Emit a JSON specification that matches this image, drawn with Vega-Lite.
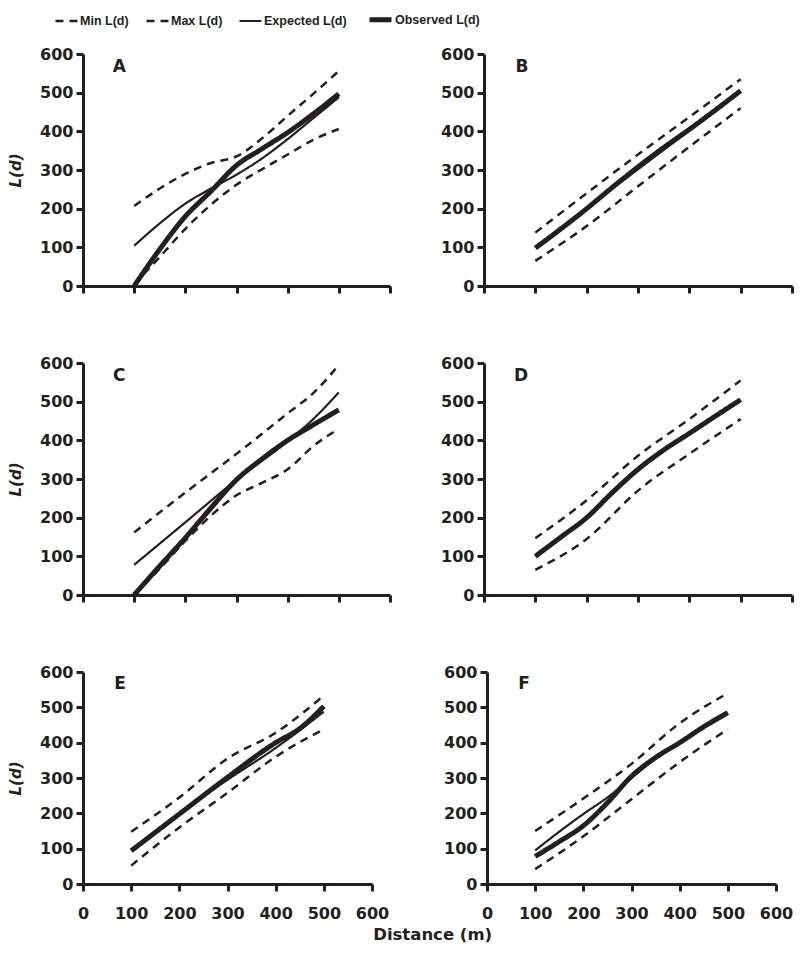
{
  "$schema": "https://vega.github.io/schema/vega-lite/v6.json",
  "padding": {"left": 8, "top": 6, "right": 5, "bottom": 5},
  "background": "white",
  "datasets": {
    "curves": [
      {"p":"A","s":"Min L(d)","d":100,"L":5},{"p":"A","s":"Min L(d)","d":150,"L":75},{"p":"A","s":"Min L(d)","d":200,"L":148},{"p":"A","s":"Min L(d)","d":250,"L":210},{"p":"A","s":"Min L(d)","d":300,"L":262},{"p":"A","s":"Min L(d)","d":350,"L":302},{"p":"A","s":"Min L(d)","d":400,"L":340},{"p":"A","s":"Min L(d)","d":450,"L":378},{"p":"A","s":"Min L(d)","d":500,"L":406},
      {"p":"A","s":"Max L(d)","d":100,"L":207},{"p":"A","s":"Max L(d)","d":150,"L":252},{"p":"A","s":"Max L(d)","d":200,"L":290},{"p":"A","s":"Max L(d)","d":250,"L":318},{"p":"A","s":"Max L(d)","d":300,"L":335},{"p":"A","s":"Max L(d)","d":350,"L":382},{"p":"A","s":"Max L(d)","d":400,"L":440},{"p":"A","s":"Max L(d)","d":450,"L":497},{"p":"A","s":"Max L(d)","d":500,"L":556},
      {"p":"A","s":"Expected L(d)","d":100,"L":104},{"p":"A","s":"Expected L(d)","d":150,"L":162},{"p":"A","s":"Expected L(d)","d":200,"L":213},{"p":"A","s":"Expected L(d)","d":250,"L":252},{"p":"A","s":"Expected L(d)","d":300,"L":288},{"p":"A","s":"Expected L(d)","d":350,"L":330},{"p":"A","s":"Expected L(d)","d":400,"L":380},{"p":"A","s":"Expected L(d)","d":450,"L":434},{"p":"A","s":"Expected L(d)","d":500,"L":488},
      {"p":"A","s":"Observed L(d)","d":100,"L":0},{"p":"A","s":"Observed L(d)","d":150,"L":95},{"p":"A","s":"Observed L(d)","d":200,"L":180},{"p":"A","s":"Observed L(d)","d":250,"L":245},{"p":"A","s":"Observed L(d)","d":300,"L":312},{"p":"A","s":"Observed L(d)","d":350,"L":355},{"p":"A","s":"Observed L(d)","d":400,"L":397},{"p":"A","s":"Observed L(d)","d":450,"L":445},{"p":"A","s":"Observed L(d)","d":500,"L":497},

      {"p":"B","s":"Min L(d)","d":100,"L":65},{"p":"B","s":"Min L(d)","d":200,"L":155},{"p":"B","s":"Min L(d)","d":300,"L":258},{"p":"B","s":"Min L(d)","d":400,"L":360},{"p":"B","s":"Min L(d)","d":500,"L":460},
      {"p":"B","s":"Max L(d)","d":100,"L":138},{"p":"B","s":"Max L(d)","d":200,"L":240},{"p":"B","s":"Max L(d)","d":300,"L":340},{"p":"B","s":"Max L(d)","d":400,"L":437},{"p":"B","s":"Max L(d)","d":500,"L":535},
      {"p":"B","s":"Expected L(d)","d":100,"L":100},{"p":"B","s":"Expected L(d)","d":200,"L":202},{"p":"B","s":"Expected L(d)","d":300,"L":302},{"p":"B","s":"Expected L(d)","d":400,"L":402},{"p":"B","s":"Expected L(d)","d":500,"L":502},
      {"p":"B","s":"Observed L(d)","d":100,"L":98},{"p":"B","s":"Observed L(d)","d":200,"L":200},{"p":"B","s":"Observed L(d)","d":250,"L":255},{"p":"B","s":"Observed L(d)","d":300,"L":308},{"p":"B","s":"Observed L(d)","d":350,"L":358},{"p":"B","s":"Observed L(d)","d":400,"L":405},{"p":"B","s":"Observed L(d)","d":500,"L":505},

      {"p":"C","s":"Min L(d)","d":100,"L":0},{"p":"C","s":"Min L(d)","d":150,"L":68},{"p":"C","s":"Min L(d)","d":200,"L":140},{"p":"C","s":"Min L(d)","d":250,"L":205},{"p":"C","s":"Min L(d)","d":300,"L":258},{"p":"C","s":"Min L(d)","d":350,"L":290},{"p":"C","s":"Min L(d)","d":400,"L":325},{"p":"C","s":"Min L(d)","d":450,"L":385},{"p":"C","s":"Min L(d)","d":500,"L":430},
      {"p":"C","s":"Max L(d)","d":100,"L":162},{"p":"C","s":"Max L(d)","d":200,"L":265},{"p":"C","s":"Max L(d)","d":300,"L":365},{"p":"C","s":"Max L(d)","d":400,"L":470},{"p":"C","s":"Max L(d)","d":450,"L":522},{"p":"C","s":"Max L(d)","d":500,"L":595},
      {"p":"C","s":"Expected L(d)","d":100,"L":78},{"p":"C","s":"Expected L(d)","d":200,"L":188},{"p":"C","s":"Expected L(d)","d":300,"L":298},{"p":"C","s":"Expected L(d)","d":400,"L":398},{"p":"C","s":"Expected L(d)","d":450,"L":455},{"p":"C","s":"Expected L(d)","d":500,"L":524},
      {"p":"C","s":"Observed L(d)","d":100,"L":0},{"p":"C","s":"Observed L(d)","d":150,"L":75},{"p":"C","s":"Observed L(d)","d":200,"L":148},{"p":"C","s":"Observed L(d)","d":250,"L":225},{"p":"C","s":"Observed L(d)","d":300,"L":298},{"p":"C","s":"Observed L(d)","d":350,"L":352},{"p":"C","s":"Observed L(d)","d":400,"L":400},{"p":"C","s":"Observed L(d)","d":450,"L":440},{"p":"C","s":"Observed L(d)","d":500,"L":479},

      {"p":"D","s":"Min L(d)","d":100,"L":65},{"p":"D","s":"Min L(d)","d":200,"L":145},{"p":"D","s":"Min L(d)","d":300,"L":270},{"p":"D","s":"Min L(d)","d":400,"L":365},{"p":"D","s":"Min L(d)","d":500,"L":455},
      {"p":"D","s":"Max L(d)","d":100,"L":147},{"p":"D","s":"Max L(d)","d":200,"L":245},{"p":"D","s":"Max L(d)","d":300,"L":360},{"p":"D","s":"Max L(d)","d":400,"L":455},{"p":"D","s":"Max L(d)","d":500,"L":555},
      {"p":"D","s":"Expected L(d)","d":100,"L":100},{"p":"D","s":"Expected L(d)","d":200,"L":200},{"p":"D","s":"Expected L(d)","d":250,"L":262},{"p":"D","s":"Expected L(d)","d":300,"L":322},{"p":"D","s":"Expected L(d)","d":350,"L":372},{"p":"D","s":"Expected L(d)","d":400,"L":416},{"p":"D","s":"Expected L(d)","d":500,"L":503},
      {"p":"D","s":"Observed L(d)","d":100,"L":100},{"p":"D","s":"Observed L(d)","d":150,"L":150},{"p":"D","s":"Observed L(d)","d":200,"L":200},{"p":"D","s":"Observed L(d)","d":250,"L":265},{"p":"D","s":"Observed L(d)","d":300,"L":325},{"p":"D","s":"Observed L(d)","d":350,"L":375},{"p":"D","s":"Observed L(d)","d":400,"L":418},{"p":"D","s":"Observed L(d)","d":450,"L":462},{"p":"D","s":"Observed L(d)","d":500,"L":505},

      {"p":"E","s":"Min L(d)","d":100,"L":52},{"p":"E","s":"Min L(d)","d":200,"L":160},{"p":"E","s":"Min L(d)","d":300,"L":258},{"p":"E","s":"Min L(d)","d":400,"L":360},{"p":"E","s":"Min L(d)","d":500,"L":438},
      {"p":"E","s":"Max L(d)","d":100,"L":148},{"p":"E","s":"Max L(d)","d":200,"L":245},{"p":"E","s":"Max L(d)","d":300,"L":355},{"p":"E","s":"Max L(d)","d":400,"L":428},{"p":"E","s":"Max L(d)","d":500,"L":533},
      {"p":"E","s":"Expected L(d)","d":100,"L":95},{"p":"E","s":"Expected L(d)","d":200,"L":200},{"p":"E","s":"Expected L(d)","d":300,"L":295},{"p":"E","s":"Expected L(d)","d":400,"L":385},{"p":"E","s":"Expected L(d)","d":450,"L":435},{"p":"E","s":"Expected L(d)","d":500,"L":488},
      {"p":"E","s":"Observed L(d)","d":100,"L":94},{"p":"E","s":"Observed L(d)","d":200,"L":198},{"p":"E","s":"Observed L(d)","d":300,"L":302},{"p":"E","s":"Observed L(d)","d":400,"L":400},{"p":"E","s":"Observed L(d)","d":450,"L":440},{"p":"E","s":"Observed L(d)","d":500,"L":503},

      {"p":"F","s":"Min L(d)","d":100,"L":42},{"p":"F","s":"Min L(d)","d":200,"L":135},{"p":"F","s":"Min L(d)","d":300,"L":240},{"p":"F","s":"Min L(d)","d":400,"L":345},{"p":"F","s":"Min L(d)","d":500,"L":438},
      {"p":"F","s":"Max L(d)","d":100,"L":150},{"p":"F","s":"Max L(d)","d":200,"L":242},{"p":"F","s":"Max L(d)","d":300,"L":340},{"p":"F","s":"Max L(d)","d":400,"L":455},{"p":"F","s":"Max L(d)","d":500,"L":540},
      {"p":"F","s":"Expected L(d)","d":100,"L":95},{"p":"F","s":"Expected L(d)","d":150,"L":148},{"p":"F","s":"Expected L(d)","d":200,"L":198},{"p":"F","s":"Expected L(d)","d":250,"L":245},{"p":"F","s":"Expected L(d)","d":300,"L":300},{"p":"F","s":"Expected L(d)","d":350,"L":355},{"p":"F","s":"Expected L(d)","d":400,"L":398},{"p":"F","s":"Expected L(d)","d":450,"L":443},{"p":"F","s":"Expected L(d)","d":500,"L":482},
      {"p":"F","s":"Observed L(d)","d":100,"L":78},{"p":"F","s":"Observed L(d)","d":150,"L":120},{"p":"F","s":"Observed L(d)","d":200,"L":165},{"p":"F","s":"Observed L(d)","d":250,"L":230},{"p":"F","s":"Observed L(d)","d":300,"L":305},{"p":"F","s":"Observed L(d)","d":350,"L":358},{"p":"F","s":"Observed L(d)","d":400,"L":400},{"p":"F","s":"Observed L(d)","d":450,"L":445},{"p":"F","s":"Observed L(d)","d":500,"L":485}
    ]
  },
  "vconcat": [
    {
      "hconcat": [
        {
          "width": 307, "height": 232,
          "layer": [
            {"data": {"name": "curves"}, "transform": [{"filter": "datum.p == 'A'"}],
             "mark": {"type": "line", "interpolate": "monotone", "color": "#231f20"},
             "encoding": {
               "x": {"field": "d", "type": "quantitative", "scale": {"domain": [0, 600], "nice": false}, "axis": {"values": [0,100,200,300,400,500,600], "labels": false, "title": null}},
               "y": {"field": "L", "type": "quantitative", "scale": {"domain": [0, 600], "nice": false}, "axis": {"values": [0,100,200,300,400,500,600], "title": "L(d)"}},
               "strokeDash": {"field": "s", "type": "nominal", "scale": {"type": "ordinal", "domain": ["Min L(d)","Max L(d)","Expected L(d)","Observed L(d)"], "range": [[8,6],[8,6],[1,0],[1,0]]}, "legend": {"title": null}},
               "strokeWidth": {"field": "s", "type": "nominal", "scale": {"type": "ordinal", "domain": ["Min L(d)","Max L(d)","Expected L(d)","Observed L(d)"], "range": [2.5,2.5,2.2,5]}, "legend": {"title": null}}
             }},
            {"data": {"values": [{"t": "A"}]}, "mark": {"type": "text", "font": "DejaVu Sans", "fontWeight": "bold", "fontSize": 17, "color": "#231f20", "align": "center", "baseline": "middle"},
             "encoding": {
               "x": {"datum": 71, "type": "quantitative", "scale": {"domain": [0, 600], "nice": false}, "axis": {"values": [0,100,200,300,400,500,600], "labels": false, "title": null}},
               "y": {"datum": 566, "type": "quantitative", "scale": {"domain": [0, 600], "nice": false}, "axis": {"values": [0,100,200,300,400,500,600], "title": "L(d)"}},
               "text": {"field": "t"}}}
          ]
        },
        {
          "width": 308, "height": 232,
          "layer": [
            {"data": {"name": "curves"}, "transform": [{"filter": "datum.p == 'B'"}],
             "mark": {"type": "line", "interpolate": "monotone", "color": "#231f20"},
             "encoding": {
               "x": {"field": "d", "type": "quantitative", "scale": {"domain": [0, 600], "nice": false}, "axis": {"values": [0,100,200,300,400,500,600], "labels": false, "title": null}},
               "y": {"field": "L", "type": "quantitative", "scale": {"domain": [0, 600], "nice": false}, "axis": {"values": [0,100,200,300,400,500,600], "title": null}},
               "strokeDash": {"field": "s", "type": "nominal", "scale": {"type": "ordinal", "domain": ["Min L(d)","Max L(d)","Expected L(d)","Observed L(d)"], "range": [[8,6],[8,6],[1,0],[1,0]]}, "legend": {"title": null}},
               "strokeWidth": {"field": "s", "type": "nominal", "scale": {"type": "ordinal", "domain": ["Min L(d)","Max L(d)","Expected L(d)","Observed L(d)"], "range": [2.5,2.5,2.2,5]}, "legend": {"title": null}}
             }},
            {"data": {"values": [{"t": "B"}]}, "mark": {"type": "text", "font": "DejaVu Sans", "fontWeight": "bold", "fontSize": 17, "color": "#231f20", "align": "center", "baseline": "middle"},
             "encoding": {
               "x": {"datum": 74, "type": "quantitative", "scale": {"domain": [0, 600], "nice": false}, "axis": {"values": [0,100,200,300,400,500,600], "labels": false, "title": null}},
               "y": {"datum": 566, "type": "quantitative", "scale": {"domain": [0, 600], "nice": false}, "axis": {"values": [0,100,200,300,400,500,600], "title": null}},
               "text": {"field": "t"}}}
          ]
        }
      ],
      "spacing": 48
    },
    {
      "hconcat": [
        {
          "width": 307, "height": 232,
          "layer": [
            {"data": {"name": "curves"}, "transform": [{"filter": "datum.p == 'C'"}],
             "mark": {"type": "line", "interpolate": "monotone", "color": "#231f20"},
             "encoding": {
               "x": {"field": "d", "type": "quantitative", "scale": {"domain": [0, 600], "nice": false}, "axis": {"values": [0,100,200,300,400,500,600], "labels": false, "title": null}},
               "y": {"field": "L", "type": "quantitative", "scale": {"domain": [0, 600], "nice": false}, "axis": {"values": [0,100,200,300,400,500,600], "title": "L(d)"}},
               "strokeDash": {"field": "s", "type": "nominal", "scale": {"type": "ordinal", "domain": ["Min L(d)","Max L(d)","Expected L(d)","Observed L(d)"], "range": [[8,6],[8,6],[1,0],[1,0]]}, "legend": {"title": null}},
               "strokeWidth": {"field": "s", "type": "nominal", "scale": {"type": "ordinal", "domain": ["Min L(d)","Max L(d)","Expected L(d)","Observed L(d)"], "range": [2.5,2.5,2.2,5]}, "legend": {"title": null}}
             }},
            {"data": {"values": [{"t": "C"}]}, "mark": {"type": "text", "font": "DejaVu Sans", "fontWeight": "bold", "fontSize": 17, "color": "#231f20", "align": "center", "baseline": "middle"},
             "encoding": {
               "x": {"datum": 71, "type": "quantitative", "scale": {"domain": [0, 600], "nice": false}, "axis": {"values": [0,100,200,300,400,500,600], "labels": false, "title": null}},
               "y": {"datum": 566, "type": "quantitative", "scale": {"domain": [0, 600], "nice": false}, "axis": {"values": [0,100,200,300,400,500,600], "title": "L(d)"}},
               "text": {"field": "t"}}}
          ]
        },
        {
          "width": 308, "height": 232,
          "layer": [
            {"data": {"name": "curves"}, "transform": [{"filter": "datum.p == 'D'"}],
             "mark": {"type": "line", "interpolate": "monotone", "color": "#231f20"},
             "encoding": {
               "x": {"field": "d", "type": "quantitative", "scale": {"domain": [0, 600], "nice": false}, "axis": {"values": [0,100,200,300,400,500,600], "labels": false, "title": null}},
               "y": {"field": "L", "type": "quantitative", "scale": {"domain": [0, 600], "nice": false}, "axis": {"values": [0,100,200,300,400,500,600], "title": null}},
               "strokeDash": {"field": "s", "type": "nominal", "scale": {"type": "ordinal", "domain": ["Min L(d)","Max L(d)","Expected L(d)","Observed L(d)"], "range": [[8,6],[8,6],[1,0],[1,0]]}, "legend": {"title": null}},
               "strokeWidth": {"field": "s", "type": "nominal", "scale": {"type": "ordinal", "domain": ["Min L(d)","Max L(d)","Expected L(d)","Observed L(d)"], "range": [2.5,2.5,2.2,5]}, "legend": {"title": null}}
             }},
            {"data": {"values": [{"t": "D"}]}, "mark": {"type": "text", "font": "DejaVu Sans", "fontWeight": "bold", "fontSize": 17, "color": "#231f20", "align": "center", "baseline": "middle"},
             "encoding": {
               "x": {"datum": 72, "type": "quantitative", "scale": {"domain": [0, 600], "nice": false}, "axis": {"values": [0,100,200,300,400,500,600], "labels": false, "title": null}},
               "y": {"datum": 566, "type": "quantitative", "scale": {"domain": [0, 600], "nice": false}, "axis": {"values": [0,100,200,300,400,500,600], "title": null}},
               "text": {"field": "t"}}}
          ]
        }
      ],
      "spacing": 48
    },
    {
      "title": {"text": "Distance (m)", "orient": "bottom", "anchor": "middle", "font": "DejaVu Sans", "fontSize": 16.5, "fontWeight": "bold", "color": "#231f20", "offset": 6, "dx": 32},
      "hconcat": [
        {
          "width": 289, "height": 212,
          "layer": [
            {"data": {"name": "curves"}, "transform": [{"filter": "datum.p == 'E'"}],
             "mark": {"type": "line", "interpolate": "monotone", "color": "#231f20"},
             "encoding": {
               "x": {"field": "d", "type": "quantitative", "scale": {"domain": [0, 600], "nice": false}, "axis": {"values": [0,100,200,300,400,500,600], "title": null}},
               "y": {"field": "L", "type": "quantitative", "scale": {"domain": [0, 600], "nice": false}, "axis": {"values": [0,100,200,300,400,500,600], "title": "L(d)"}},
               "strokeDash": {"field": "s", "type": "nominal", "scale": {"type": "ordinal", "domain": ["Min L(d)","Max L(d)","Expected L(d)","Observed L(d)"], "range": [[8,6],[8,6],[1,0],[1,0]]}, "legend": {"title": null}},
               "strokeWidth": {"field": "s", "type": "nominal", "scale": {"type": "ordinal", "domain": ["Min L(d)","Max L(d)","Expected L(d)","Observed L(d)"], "range": [2.5,2.5,2.2,5]}, "legend": {"title": null}}
             }},
            {"data": {"values": [{"t": "E"}]}, "mark": {"type": "text", "font": "DejaVu Sans", "fontWeight": "bold", "fontSize": 17, "color": "#231f20", "align": "center", "baseline": "middle"},
             "encoding": {
               "x": {"datum": 77, "type": "quantitative", "scale": {"domain": [0, 600], "nice": false}, "axis": {"values": [0,100,200,300,400,500,600], "title": null}},
               "y": {"datum": 566, "type": "quantitative", "scale": {"domain": [0, 600], "nice": false}, "axis": {"values": [0,100,200,300,400,500,600], "title": "L(d)"}},
               "text": {"field": "t"}}}
          ]
        },
        {
          "width": 289, "height": 212,
          "layer": [
            {"data": {"name": "curves"}, "transform": [{"filter": "datum.p == 'F'"}],
             "mark": {"type": "line", "interpolate": "monotone", "color": "#231f20"},
             "encoding": {
               "x": {"field": "d", "type": "quantitative", "scale": {"domain": [0, 600], "nice": false}, "axis": {"values": [0,100,200,300,400,500,600], "title": null}},
               "y": {"field": "L", "type": "quantitative", "scale": {"domain": [0, 600], "nice": false}, "axis": {"values": [0,100,200,300,400,500,600], "title": null}},
               "strokeDash": {"field": "s", "type": "nominal", "scale": {"type": "ordinal", "domain": ["Min L(d)","Max L(d)","Expected L(d)","Observed L(d)"], "range": [[8,6],[8,6],[1,0],[1,0]]}, "legend": {"title": null}},
               "strokeWidth": {"field": "s", "type": "nominal", "scale": {"type": "ordinal", "domain": ["Min L(d)","Max L(d)","Expected L(d)","Observed L(d)"], "range": [2.5,2.5,2.2,5]}, "legend": {"title": null}}
             }},
            {"data": {"values": [{"t": "F"}]}, "mark": {"type": "text", "font": "DejaVu Sans", "fontWeight": "bold", "fontSize": 17, "color": "#231f20", "align": "center", "baseline": "middle"},
             "encoding": {
               "x": {"datum": 77, "type": "quantitative", "scale": {"domain": [0, 600], "nice": false}, "axis": {"values": [0,100,200,300,400,500,600], "title": null}},
               "y": {"datum": 566, "type": "quantitative", "scale": {"domain": [0, 600], "nice": false}, "axis": {"values": [0,100,200,300,400,500,600], "title": null}},
               "text": {"field": "t"}}}
          ]
        }
      ],
      "spacing": 54
    }
  ],
  "spacing": 59,
  "config": {
    "view": {"stroke": null},
    "font": "DejaVu Sans",
    "axis": {"domainColor": "#231f20", "domainWidth": 3, "tickColor": "#231f20", "tickWidth": 3, "tickSize": 7, "labelFont": "DejaVu Sans", "labelFontWeight": "bold", "labelFontSize": 16, "labelColor": "#231f20", "labelOverlap": false, "labelFlush": false, "grid": false, "labelPadding": 3, "titleFont": "DejaVu Sans", "titleFontWeight": "bold", "titleFontStyle": "italic", "titleFontSize": 15, "titleColor": "#231f20", "titlePadding": 16},
    "axisX": {"labelPadding": 14},
    "legend": {"orient": "none", "legendX": -29, "legendY": -48, "direction": "horizontal", "symbolType": "stroke", "symbolSize": 484, "symbolStrokeColor": "#231f20", "labelFont": "Liberation Sans", "labelFontWeight": "bold", "labelFontSize": 12.5, "labelColor": "#231f20", "columnPadding": 12, "labelOffset": 1}
  }
}
